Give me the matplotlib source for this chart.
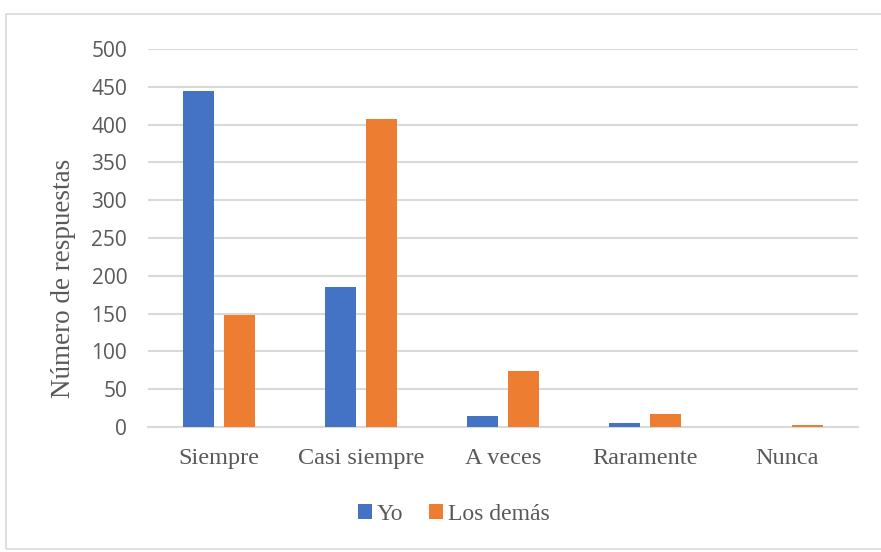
import numpy as np
import matplotlib.pyplot as plt
from matplotlib.patches import Rectangle

categorias = ['Siempre', 'Casi siempre', 'A veces', 'Raramente', 'Nunca']
yo = [445, 185, 14, 5, 0]
los_demas = [148, 408, 74, 17, 3]
yticks = [0, 50, 100, 150, 200, 250, 300, 350, 400, 450, 500]

gris = '#595959'
serif = 'Liberation Serif'

fig = plt.figure(figsize=(8.81, 5.52), dpi=100)
ax = fig.add_axes([0.168, 0.2264, 0.806, 0.6848])

# marco del grafico
fig.patches.append(Rectangle((6/881, 3/552), 1.0, 1 - 17/552, transform=fig.transFigure,
                             fill=False, edgecolor='#d9d9d9', linewidth=1.2))

x = np.arange(len(categorias))
w = 0.22
b1 = ax.bar(x - 0.145, yo, w, color='#4472c4', label='Yo', zorder=3)
b2 = ax.bar(x + 0.145, los_demas, w, color='#ed7d31', label='Los demás', zorder=3)

ax.set_xlim(-0.5, len(categorias) - 0.5)
ax.set_ylim(0, 500)
ax.set_yticks(yticks)
ax.yaxis.grid(True, color='#d9d9d9', linewidth=1.5, zorder=0)
ax.set_axisbelow(True)
for s in ['top', 'right', 'left']:
    ax.spines[s].set_visible(False)
ax.spines['bottom'].set_color('#d9d9d9')
ax.spines['bottom'].set_linewidth(1.5)
ax.tick_params(axis='both', length=0)
ax.tick_params(axis='y', pad=15, labelcolor=gris, labelsize=15)
for t in ax.get_yticklabels():
    t.set_family('Open Sans')
ax.set_xticks(x)
ax.set_xticklabels(categorias, family=serif, fontsize=17.5, color=gris)
ax.tick_params(axis='x', pad=15)

ax.set_ylabel('Número de respuestas', family=serif, fontsize=19.5, color=gris)
ax.yaxis.set_label_coords(-0.101, 0.394)

leg = fig.legend(handles=[b1, b2], loc='center', bbox_to_anchor=(0.515, 0.068), ncol=2,
                 frameon=False, prop={'family': serif, 'size': 17},
                 handlelength=0.6, handleheight=0.6, handletextpad=0.2, columnspacing=1.1)
for t in leg.get_texts():
    t.set_color(gris)

fig.savefig('out.png', dpi=100)
